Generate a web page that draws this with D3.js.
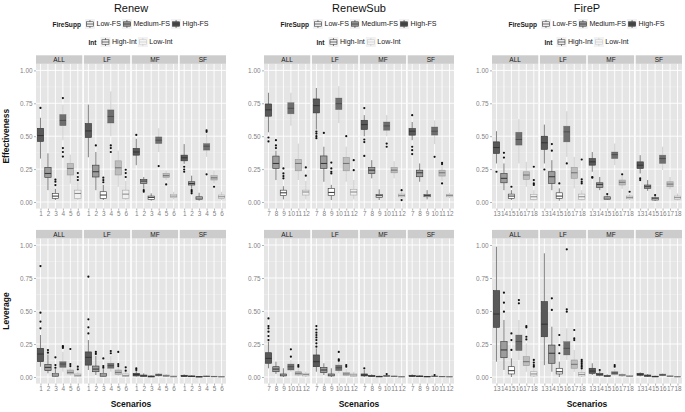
<!DOCTYPE html>
<html lang="en">
<head>
<meta charset="utf-8">
<title>Effectiveness and leverage by scenario</title>
<script src="https://cdn.jsdelivr.net/npm/d3@7"></script>
<style>
  body { margin: 0; background: #fff; }
  text { font-family: "Liberation Sans", Arial, sans-serif; }
</style>
</head>
<body>
<script>

// ---------------- data ----------------
var facets = ["ALL", "LF", "MF", "SF"];
var titles = ["Renew", "RenewSub", "FireP"];
var renewScen = ["1", "2", "3", "4", "5", "6"];
var renewSubScen = ["7", "8", "9", "10", "11", "12"];
var firePScen = ["13", "14", "15", "16", "17", "18"];
var yTicks = [0, 0.25, 0.5, 0.75, 1];
var yMinor = [0.125, 0.375, 0.625, 0.875];
var fireSuppLevels = ["Low-FS", "Medium-FS", "High-FS"];
var intLevels = ["High-Int", "Low-Int"];

// [facet, scenario, lower whisker, q1, median, q3, upper whisker, outliers]
var renewEff = [
  ["ALL","1",0.33,0.46,0.505,0.56,0.64,[0.715]],
  ["ALL","2",0.09,0.187,0.217,0.263,0.37,[]],
  ["ALL","3",0.015,0.028,0.045,0.066,0.1,[0.129,0.154,0.17]],
  ["ALL","4",0.47,0.58,0.62,0.665,0.74,[0.79,0.41,0.38,0.345]],
  ["ALL","5",0.14,0.205,0.255,0.293,0.36,[]],
  ["ALL","6",0.015,0.028,0.065,0.09,0.15,[0.167,0.19,0.22]],
  ["LF","1",0.34,0.49,0.54,0.596,0.74,[]],
  ["LF","2",0.09,0.19,0.23,0.28,0.38,[0.43]],
  ["LF","3",0.015,0.028,0.053,0.078,0.13,[0.15,0.167,0.185]],
  ["LF","4",0.5,0.6,0.65,0.7,0.84,[0.43,0.41,0.38]],
  ["LF","5",0.115,0.205,0.26,0.313,0.39,[]],
  ["LF","6",0.015,0.028,0.06,0.09,0.16,[0.19,0.22,0.245]],
  ["MF","1",0.28,0.356,0.38,0.407,0.48,[0.51]],
  ["MF","2",0.1,0.141,0.159,0.172,0.19,[0.09,0.078]],
  ["MF","3",0.01,0.02,0.035,0.045,0.066,[]],
  ["MF","4",0.38,0.444,0.47,0.495,0.56,[0.273]],
  ["MF","5",0.165,0.187,0.2,0.217,0.24,[0.134]],
  ["MF","6",0.02,0.033,0.045,0.058,0.078,[]],
  ["SF","1",0.29,0.313,0.336,0.356,0.44,[0.268,0.247,0.23]],
  ["SF","2",0.1,0.129,0.141,0.154,0.2,[0.09,0.078,0.066]],
  ["SF","3",0.01,0.02,0.03,0.04,0.07,[]],
  ["SF","4",0.343,0.394,0.424,0.444,0.52,[0.545,0.533,0.21]],
  ["SF","5",0.141,0.167,0.184,0.2,0.24,[0.116]],
  ["SF","6",0.015,0.028,0.04,0.053,0.078,[]]
];

var renewLev = [
  ["ALL","1",0.078,0.116,0.174,0.217,0.318,[0.84,0.487,0.42,0.369]],
  ["ALL","2",0.028,0.048,0.073,0.096,0.17,[0.204,0.184]],
  ["ALL","3",0.0,0.003,0.015,0.028,0.06,[0.149,0.09,0.07]],
  ["ALL","4",0.04,0.073,0.098,0.116,0.19,[0.235,0.23,0.22]],
  ["ALL","5",0.01,0.023,0.035,0.053,0.075,[0.212,0.098,0.083]],
  ["ALL","6",0.0,0.003,0.013,0.023,0.04,[0.078,0.058]],
  ["LF","1",0.053,0.09,0.149,0.19,0.28,[0.76,0.437,0.376,0.33]],
  ["LF","2",0.015,0.04,0.06,0.083,0.16,[0.19,0.175]],
  ["LF","3",0.0,0.003,0.015,0.028,0.06,[0.141,0.083,0.07]],
  ["LF","4",0.04,0.066,0.086,0.104,0.16,[0.197,0.18]],
  ["LF","5",0.008,0.02,0.035,0.053,0.075,[0.19,0.098,0.083]],
  ["LF","6",0.0,0.003,0.01,0.023,0.04,[0.073,0.048]],
  ["MF","1",0.003,0.008,0.018,0.028,0.045,[0.065,0.053]],
  ["MF","2",0.0,0.003,0.01,0.015,0.028,[]],
  ["MF","3",0.0,0.0,0.004,0.008,0.012,[]],
  ["MF","4",0.002,0.008,0.015,0.023,0.03,[]],
  ["MF","5",0.0,0.003,0.009,0.015,0.022,[]],
  ["MF","6",0.0,0.0,0.003,0.008,0.01,[]],
  ["SF","1",0.0,0.003,0.008,0.013,0.02,[]],
  ["SF","2",0.0,0.002,0.005,0.008,0.012,[]],
  ["SF","3",0.0,0.0,0.002,0.004,0.006,[]],
  ["SF","4",0.0,0.002,0.005,0.008,0.012,[]],
  ["SF","5",0.0,0.001,0.003,0.006,0.008,[]],
  ["SF","6",0.0,0.0,0.002,0.004,0.005,[]]
];

var renewSubEff = [
  ["ALL","7",0.53,0.652,0.7,0.745,0.83,[0.49,0.46]],
  ["ALL","8",0.167,0.255,0.293,0.349,0.39,[0.47,0.43,0.41]],
  ["ALL","9",0.02,0.048,0.07,0.09,0.12,[0.255,0.217,0.197,0.18]],
  ["ALL","10",0.58,0.67,0.712,0.755,0.83,[]],
  ["ALL","11",0.167,0.237,0.293,0.323,0.444,[]],
  ["ALL","12",0.02,0.053,0.076,0.09,0.16,[0.263,0.2]],
  ["LF","7",0.55,0.677,0.732,0.783,0.866,[0.535,0.52,0.5,0.485]],
  ["LF","8",0.154,0.255,0.293,0.35,0.42,[0.525]],
  ["LF","9",0.015,0.048,0.073,0.104,0.13,[0.3,0.255,0.23,0.217]],
  ["LF","10",0.6,0.702,0.747,0.79,0.88,[]],
  ["LF","11",0.154,0.237,0.293,0.338,0.42,[0.5]],
  ["LF","12",0.02,0.053,0.076,0.096,0.167,[0.318,0.242]],
  ["MF","7",0.5,0.551,0.588,0.621,0.66,[0.714,0.475,0.455,0.35]],
  ["MF","8",0.18,0.217,0.242,0.263,0.318,[]],
  ["MF","9",0.015,0.035,0.048,0.058,0.096,[]],
  ["MF","10",0.5,0.545,0.578,0.608,0.66,[0.444,0.42]],
  ["MF","11",0.18,0.222,0.242,0.263,0.31,[]],
  ["MF","12",0.028,0.04,0.05,0.06,0.08,[0.09,0.015]],
  ["SF","7",0.47,0.508,0.538,0.558,0.608,[0.66,0.42,0.394,0.364]],
  ["SF","8",0.154,0.192,0.222,0.242,0.293,[]],
  ["SF","9",0.02,0.04,0.05,0.058,0.09,[]],
  ["SF","10",0.44,0.508,0.538,0.57,0.62,[0.343]],
  ["SF","11",0.16,0.197,0.222,0.242,0.28,[0.298,0.288,0.141]],
  ["SF","12",0.03,0.04,0.05,0.058,0.07,[]]
];

var renewSubLev = [
  ["ALL","7",0.066,0.104,0.141,0.184,0.268,[0.444,0.386,0.369,0.343,0.31,0.28]],
  ["ALL","8",0.023,0.04,0.06,0.078,0.116,[]],
  ["ALL","9",0.0,0.008,0.015,0.023,0.066,[]],
  ["ALL","10",0.04,0.053,0.078,0.098,0.129,[0.21,0.154]],
  ["ALL","11",0.005,0.015,0.028,0.04,0.066,[0.09,0.078]],
  ["ALL","12",0.0,0.008,0.018,0.028,0.04,[]],
  ["LF","7",0.04,0.078,0.116,0.167,0.217,[0.386,0.36,0.336,0.318,0.3,0.28,0.255,0.23]],
  ["LF","8",0.015,0.033,0.053,0.073,0.104,[]],
  ["LF","9",0.0,0.008,0.015,0.023,0.066,[]],
  ["LF","10",0.028,0.048,0.07,0.09,0.141,[0.19,0.134,0.124]],
  ["LF","11",0.005,0.013,0.023,0.033,0.06,[0.09,0.078]],
  ["LF","12",0.0,0.005,0.015,0.023,0.04,[]],
  ["MF","7",0.0,0.008,0.015,0.023,0.053,[0.066]],
  ["MF","8",0.0,0.003,0.008,0.012,0.02,[]],
  ["MF","9",0.0,0.001,0.003,0.006,0.01,[]],
  ["MF","10",0.0,0.004,0.008,0.012,0.018,[0.022]],
  ["MF","11",0.0,0.002,0.005,0.008,0.012,[]],
  ["MF","12",0.0,0.0,0.002,0.004,0.006,[]],
  ["SF","7",0.0,0.004,0.008,0.012,0.02,[]],
  ["SF","8",0.0,0.002,0.005,0.008,0.012,[]],
  ["SF","9",0.0,0.001,0.003,0.005,0.008,[]],
  ["SF","10",0.0,0.003,0.005,0.008,0.012,[0.015]],
  ["SF","11",0.0,0.001,0.003,0.005,0.008,[]],
  ["SF","12",0.0,0.0,0.002,0.004,0.006,[]]
];

var firePEff = [
  ["ALL","13",0.293,0.369,0.414,0.457,0.538,[0.23]],
  ["ALL","14",0.09,0.146,0.18,0.217,0.293,[0.374,0.338]],
  ["ALL","15",0.015,0.028,0.045,0.06,0.09,[0.116]],
  ["ALL","16",0.293,0.432,0.475,0.53,0.63,[]],
  ["ALL","17",0.116,0.172,0.205,0.23,0.305,[]],
  ["ALL","18",0.01,0.02,0.04,0.058,0.09,[0.268,0.167,0.141,0.13]],
  ["LF","13",0.293,0.4,0.45,0.5,0.588,[0.247]],
  ["LF","14",0.09,0.141,0.192,0.23,0.318,[0.44,0.39]],
  ["LF","15",0.01,0.028,0.045,0.07,0.104,[0.141]],
  ["LF","16",0.343,0.457,0.533,0.576,0.69,[0.293]],
  ["LF","17",0.104,0.18,0.222,0.263,0.343,[]],
  ["LF","18",0.01,0.02,0.04,0.06,0.09,[0.323,0.172,0.154,0.141]],
  ["MF","13",0.23,0.28,0.305,0.33,0.38,[0.19,0.185]],
  ["MF","14",0.09,0.111,0.134,0.146,0.19,[]],
  ["MF","15",0.015,0.02,0.03,0.04,0.05,[0.06]],
  ["MF","16",0.28,0.33,0.36,0.38,0.444,[]],
  ["MF","17",0.1,0.129,0.15,0.167,0.2,[0.21]],
  ["MF","18",0.015,0.025,0.035,0.045,0.06,[0.078]],
  ["SF","13",0.217,0.255,0.28,0.305,0.356,[0.18,0.167]],
  ["SF","14",0.085,0.104,0.116,0.129,0.167,[]],
  ["SF","15",0.008,0.015,0.025,0.033,0.045,[0.053]],
  ["SF","16",0.243,0.293,0.33,0.356,0.42,[]],
  ["SF","17",0.095,0.116,0.136,0.154,0.19,[]],
  ["SF","18",0.01,0.02,0.033,0.045,0.065,[]]
];

var firePLev = [
  ["ALL","13",0.116,0.376,0.477,0.654,0.987,[]],
  ["ALL","14",0.053,0.146,0.205,0.268,0.432,[0.639,0.563,0.495]],
  ["ALL","15",0.0,0.023,0.048,0.078,0.141,[0.33,0.28,0.205]],
  ["ALL","16",0.129,0.2,0.268,0.318,0.432,[0.583,0.558]],
  ["ALL","17",0.04,0.086,0.116,0.154,0.255,[0.386,0.376,0.305,0.285]],
  ["ALL","18",0.0,0.008,0.023,0.04,0.07,[0.129,0.109,0.09,0.078]],
  ["LF","13",0.09,0.305,0.4,0.571,0.937,[]],
  ["LF","14",0.04,0.104,0.18,0.242,0.381,[0.596,0.508]],
  ["LF","15",0.0,0.023,0.04,0.066,0.116,[0.318,0.242,0.18]],
  ["LF","16",0.129,0.167,0.217,0.268,0.369,[0.967,0.513,0.495]],
  ["LF","17",0.04,0.066,0.096,0.129,0.205,[0.356,0.293,0.28]],
  ["LF","18",0.0,0.008,0.02,0.033,0.06,[0.129,0.116,0.104,0.09,0.078,0.066]],
  ["MF","13",0.015,0.028,0.045,0.066,0.104,[]],
  ["MF","14",0.005,0.013,0.02,0.028,0.045,[0.053]],
  ["MF","15",0.0,0.003,0.008,0.012,0.02,[]],
  ["MF","16",0.01,0.02,0.03,0.04,0.06,[0.09,0.078]],
  ["MF","17",0.0,0.008,0.015,0.02,0.03,[]],
  ["MF","18",0.0,0.002,0.006,0.01,0.015,[]],
  ["SF","13",0.005,0.013,0.02,0.028,0.035,[]],
  ["SF","14",0.0,0.005,0.01,0.015,0.022,[]],
  ["SF","15",0.0,0.001,0.003,0.006,0.01,[]],
  ["SF","16",0.005,0.01,0.016,0.022,0.03,[]],
  ["SF","17",0.0,0.003,0.006,0.009,0.014,[]],
  ["SF","18",0.0,0.0,0.002,0.005,0.008,[]]
];

// ---------------- styles ----------------
// scenario position within a plot: High/Med/Low FS with High-Int, then with Low-Int
var boxFill = ["#595959", "#9c9c9c", "#ffffff", "#6e6e6e", "#bdbdbd", "#f0f0f0"];
var lineOpacity = [1, 1, 1, 0.35, 0.35, 0.35];
var fsKeyFill = ["#ffffff", "#9c9c9c", "#4d4d4d"];
var intKeyStroke = ["#333333", "#c8c8c8"];

var W = 685, H = 412;
var colW = 228;
var panelL = 36, panelR = 226;
var stripH = 8.5;
var rowDefs = [
  {top: 63.8, bottom: 208.6, ylab: "Effectiveness"},
  {top: 238.4, bottom: 383.6, ylab: "Leverage"}
];

var plots = [
  {scen: renewScen, eff: renewEff, lev: renewLev},
  {scen: renewSubScen, eff: renewSubEff, lev: renewSubLev},
  {scen: firePScen, eff: firePEff, lev: firePLev}
];

var svg = d3.select("body").append("svg")
  .attr("width", W).attr("height", H)
  .style("display", "block");

svg.append("rect").attr("width", W).attr("height", H).attr("fill", "#fff");

function styleAxis(a) {
  a.select(".domain").remove();
  a.selectAll(".tick line").attr("stroke", "#7f7f7f").attr("stroke-width", 0.6);
  a.selectAll(".tick text").attr("fill", "#7f7f7f").style("font-size", "6.4px")
    .style("font-family", "'Liberation Sans', Arial, sans-serif");
}

function drawPlot(g, data, scen, r) {
  var fx = d3.scaleBand().domain(facets).range([panelL, panelR]).paddingInner(0.0334);
  var y = d3.scaleLinear().domain([-0.05, 1.05]).range([r.bottom, r.top]);

  facets.forEach(function(f, fi) {
    var bw = fx.bandwidth();
    var x = d3.scalePoint().domain(scen).range([0, bw]).padding(0.6);
    var p = g.append("g").attr("transform", "translate(" + fx(f) + ",0)");

    // panel background + grid
    p.append("rect").attr("x", 0).attr("y", r.top)
      .attr("width", bw).attr("height", r.bottom - r.top).attr("fill", "#e5e5e5");
    p.selectAll(".minor").data(yMinor).enter().append("line")
      .attr("x1", 0).attr("x2", bw)
      .attr("y1", function(d) { return y(d); }).attr("y2", function(d) { return y(d); })
      .attr("stroke", "#f2f2f2").attr("stroke-width", 0.5);
    p.selectAll(".major").data(yTicks).enter().append("line")
      .attr("x1", 0).attr("x2", bw)
      .attr("y1", function(d) { return y(d); }).attr("y2", function(d) { return y(d); })
      .attr("stroke", "#fff").attr("stroke-width", 0.9);
    p.selectAll(".vgrid").data(scen).enter().append("line")
      .attr("x1", function(d) { return x(d); }).attr("x2", function(d) { return x(d); })
      .attr("y1", r.top).attr("y2", r.bottom)
      .attr("stroke", "#fff").attr("stroke-width", 0.9);

    // strip
    p.append("rect").attr("x", 0).attr("y", r.top - stripH)
      .attr("width", bw).attr("height", stripH).attr("fill", "#cccccc");
    p.append("text").attr("x", bw / 2).attr("y", r.top - stripH / 2)
      .attr("text-anchor", "middle").attr("dominant-baseline", "central")
      .style("font-size", "6.5px").attr("fill", "#1a1a1a").text(f);

    // boxes
    var boxW = x.step() * 0.85;
    var rows = data.filter(function(d) { return d[0] === f; });
    var b = p.selectAll(".box").data(rows).enter().append("g")
      .attr("transform", function(d) { return "translate(" + x(d[1]) + ",0)"; });
    var si = function(d) { return scen.indexOf(d[1]); };

    b.append("line").attr("x1", 0).attr("x2", 0)
      .attr("y1", function(d) { return y(d[6]); }).attr("y2", function(d) { return y(d[5]); })
      .attr("stroke", "#333").attr("stroke-width", 0.6)
      .attr("stroke-opacity", function(d) { return lineOpacity[si(d)]; });
    b.append("line").attr("x1", 0).attr("x2", 0)
      .attr("y1", function(d) { return y(d[3]); }).attr("y2", function(d) { return y(d[2]); })
      .attr("stroke", "#333").attr("stroke-width", 0.6)
      .attr("stroke-opacity", function(d) { return lineOpacity[si(d)]; });
    b.append("rect")
      .attr("x", -boxW / 2).attr("width", boxW)
      .attr("y", function(d) { return y(d[5]); })
      .attr("height", function(d) { return Math.max(0.6, y(d[3]) - y(d[5])); })
      .attr("fill", function(d) { return boxFill[si(d)]; })
      .attr("stroke", "#333").attr("stroke-width", 0.6)
      .attr("stroke-opacity", function(d) { return lineOpacity[si(d)]; });
    b.append("line").attr("x1", -boxW / 2).attr("x2", boxW / 2)
      .attr("y1", function(d) { return y(d[4]); }).attr("y2", function(d) { return y(d[4]); })
      .attr("stroke", "#333").attr("stroke-width", 1)
      .attr("stroke-opacity", function(d) { return Math.min(1, lineOpacity[si(d)] * 1.6); });
    b.selectAll("circle").data(function(d) { return d[7]; }).enter().append("circle")
      .attr("cx", 0).attr("cy", function(v) { return y(v); }).attr("r", 1.1)
      .attr("fill", "#111");

    // axes
    var xa = p.append("g").attr("transform", "translate(0," + r.bottom + ")")
      .call(d3.axisBottom(x).tickSize(2).tickPadding(1));
    styleAxis(xa);
    if (fi === 0) {
      var ya = p.append("g")
        .call(d3.axisLeft(y).tickValues(yTicks).tickFormat(d3.format(".2f")).tickSize(2).tickPadding(1.5));
      styleAxis(ya);
    }
  });
}

function drawKey(g, x, yc, fill, stroke) {
  var k = g.append("g").attr("transform", "translate(" + x + "," + (yc - 5) + ")");
  k.append("rect").attr("width", 10).attr("height", 10).attr("fill", "#f2f2f2");
  k.append("line").attr("x1", 5).attr("x2", 5).attr("y1", 1).attr("y2", 9)
    .attr("stroke", stroke).attr("stroke-width", 0.6);
  k.append("rect").attr("x", 1.5).attr("y", 2.8).attr("width", 7).attr("height", 4.4)
    .attr("fill", fill).attr("stroke", stroke).attr("stroke-width", 0.6);
  k.append("line").attr("x1", 1.5).attr("x2", 8.5).attr("y1", 5).attr("y2", 5)
    .attr("stroke", stroke).attr("stroke-width", 0.8);
}

function drawLegendRow(g, title, labels, fills, strokes, yc, cx) {
  var row = g.append("g");
  var t = row.append("text").attr("x", 0).attr("y", yc).attr("dominant-baseline", "central")
    .style("font-size", "6.6px").style("font-weight", "bold").attr("fill", "#1a1a1a").text(title);
  var cur = t.node().getComputedTextLength() + 4;
  labels.forEach(function(lab, i) {
    drawKey(row, cur, yc, fills[i], strokes[i]);
    cur += 11.5;
    var lt = row.append("text").attr("x", cur).attr("y", yc).attr("dominant-baseline", "central")
      .style("font-size", "7.1px").attr("fill", "#1a1a1a").text(lab);
    cur += lt.node().getComputedTextLength() + 1;
  });
  row.attr("transform", "translate(" + (cx - cur / 2) + ",0)");
}

plots.forEach(function(pl, ci) {
  var g = svg.append("g").attr("transform", "translate(" + (ci * colW) + ",0)");
  var cx = (panelL + panelR) / 2;

  // title
  g.append("text").attr("x", cx).attr("y", 8).attr("text-anchor", "middle")
    .attr("dominant-baseline", "central").style("font-size", "11px").attr("fill", "#111")
    .text(titles[ci]);

  // legends
  drawLegendRow(g, "FireSupp", fireSuppLevels, fsKeyFill, ["#333", "#333", "#333"], 24, cx);
  drawLegendRow(g, "Int", intLevels, ["#ffffff", "#fafafa"], intKeyStroke, 42, cx);

  drawPlot(g, pl.eff, pl.scen, rowDefs[0]);
  drawPlot(g, pl.lev, pl.scen, rowDefs[1]);

  // x title, bottom row only
  g.append("text").attr("x", cx).attr("y", 404).attr("text-anchor", "middle")
    .attr("dominant-baseline", "central").style("font-size", "8.5px").style("font-weight", "bold")
    .attr("fill", "#111").text("Scenarios");

  // y titles, first column only
  if (ci === 0) {
    rowDefs.forEach(function(r) {
      g.append("text").attr("transform", "translate(6," + ((r.top + r.bottom) / 2) + ") rotate(-90)")
        .attr("text-anchor", "middle").attr("dominant-baseline", "central")
        .style("font-size", "8.5px").style("font-weight", "bold").attr("fill", "#111")
        .text(r.ylab);
    });
  }
});

</script>
</body>
</html>
